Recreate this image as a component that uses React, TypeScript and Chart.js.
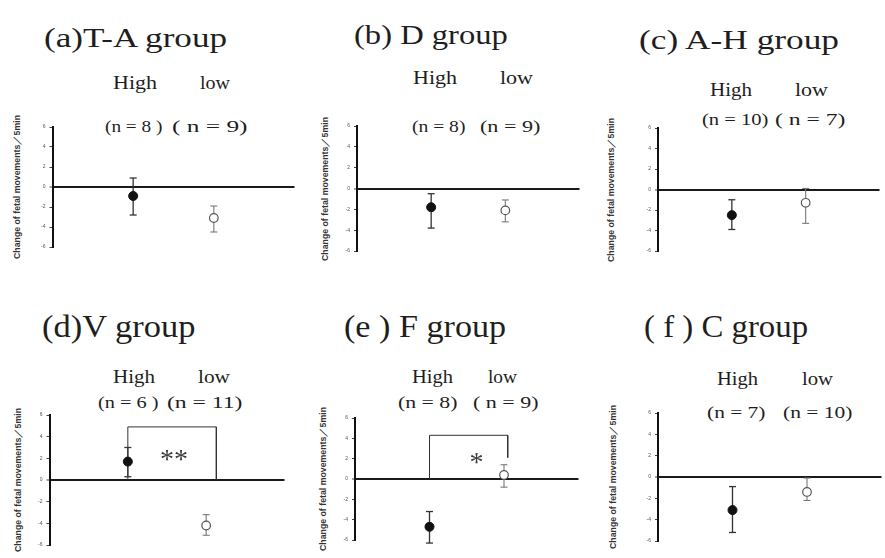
import React, { useEffect, useRef } from 'react';
import { Chart, registerables } from 'chart.js';

Chart.register(...registerables);

// ---------- data ----------
const panelTitles = ['(a)T-A group', '(b) D group', '(c) A-H group', '(d)V group', '(e ) F group', '( f ) C group'];
const groupLabels = ['High', 'low'];
const groupX = [1, 2];
const nHighLabels = ['(n = 8 )', '(n = 8)', '(n = 10)', '(n = 6 )', '(n = 8)', '(n = 7)'];
const nLowLabels = ['( n = 9)', '(n = 9)', '( n = 7)', '(n = 11)', '( n = 9)', '(n = 10)'];
const highMean = [-0.9, -1.8, -2.5, 1.7, -4.7, -3.1];
const highLower = [-2.8, -3.8, -3.9, 0.3, -6.3, -5.2];
const highUpper = [0.9, -0.5, -1.0, 3.0, -3.2, -0.9];
const lowMean = [-3.1, -2.1, -1.3, -4.2, 0.4, -1.4];
const lowLower = [-4.5, -3.2, -3.3, -5.1, -0.8, -2.2];
const lowUpper = [-1.9, -1.1, 0.1, -3.2, 1.4, -0.1];
const yTickValues = [-6, -4, -2, 0, 2, 4, 6];
const yAxisLabel = 'Change of fetal movements／5min';
const sigMarks = ['', '', '', '**', '*', ''];
const sigBracketX: (number[] | null)[] = [null, null, null, [1, 1, 2.13, 2.13], [1, 1, 2.05, 2.05], null];
const sigBracketY: (number[] | null)[] = [null, null, null, [0, 4.9, 4.9, 0], [0, 4.3, 4.3, 2.1], null];
const sigMarkX = [0, 0, 0, 1.59, 1.63, 0];
const sigMarkY = [0, 0, 0, 2.3, 2.1, 0];

// ---------- layout (pixels) ----------
const plotBoxes = [
  { labelX: 16.5, axisX: 52, yTop: 127, yBot: 247, xEnd: 297 },
  { labelX: 325, axisX: 357, yTop: 126, yBot: 251, xEnd: 583 },
  { labelX: 611, axisX: 658, yTop: 128, yBot: 251, xEnd: 883 },
  { labelX: 17.5, axisX: 49, yTop: 415, yBot: 545, xEnd: 287 },
  { labelX: 323, axisX: 355, yTop: 418, yBot: 540, xEnd: 582 },
  { labelX: 613, axisX: 658, yTop: 413, yBot: 541, xEnd: 885 },
];
const titleBoxes = [
  { x0: 45, x1: 228, cy: 37.5, size: 27 },
  { x0: 355, x1: 507, cy: 35, size: 27 },
  { x0: 640, x1: 840, cy: 40, size: 27 },
  { x0: 43, x1: 195, cy: 326, size: 32 },
  { x0: 345, x1: 505, cy: 326, size: 32 },
  { x0: 645, x1: 807, cy: 326, size: 32 },
];
const groupBoxes = [
  { h: [113, 157], l: [200, 230], cy: 83 },
  { h: [413, 457], l: [500, 533], cy: 78 },
  { h: [710, 752], l: [795, 828], cy: 90 },
  { h: [113, 155], l: [198, 230], cy: 377 },
  { h: [412, 453], l: [488, 517], cy: 377 },
  { h: [717, 758], l: [802, 833], cy: 379 },
];
const nBoxes = [
  { h: [105, 162], l: [172, 247], cy: 127 },
  { h: [412, 465], l: [480, 540], cy: 127 },
  { h: [702, 768], l: [775, 845], cy: 120 },
  { h: [98, 158], l: [167, 242], cy: 403 },
  { h: [398, 457], l: [473, 538], cy: 403 },
  { h: [707, 765], l: [783, 852], cy: 413 },
];
const Y_LABEL_LENGTH = 144;

const SERIF = '"Liberation Serif", "Times New Roman", serif';
const SANS = '"Liberation Sans", Arial, sans-serif';
const measureCtx = typeof document !== 'undefined' ? document.createElement('canvas').getContext('2d') : null;

function FitText({ text, x0, x1, cy, size }: { text: string; x0: number; x1: number; cy: number; size: number }) {
  let sx = 1;
  let left = x0;
  if (measureCtx) {
    measureCtx.font = `${size}px ${SERIF}`;
    const m = measureCtx.measureText(text);
    const abl = m.actualBoundingBoxLeft || 0;
    const abr = m.actualBoundingBoxRight || m.width;
    const ink = abl + abr;
    if (ink > 0) sx = (x1 - x0) / ink;
    left = x0 + abl * sx;
  }
  return (
    <div
      style={{
        position: 'absolute',
        left,
        top: cy,
        fontFamily: SERIF,
        fontSize: size,
        lineHeight: 1,
        whiteSpace: 'pre',
        color: '#1e1e1e',
        transform: `translateY(-50%) scaleX(${sx})`,
        transformOrigin: 'left center',
      }}
    >
      {text}
    </div>
  );
}

function AxisLabel({ cx, cy }: { cx: number; cy: number }) {
  const size = 8.5;
  let sx = 1;
  if (measureCtx) {
    measureCtx.font = `bold ${size}px ${SANS}`;
    const w = measureCtx.measureText(yAxisLabel).width;
    if (w > 0) sx = Y_LABEL_LENGTH / w;
  }
  return (
    <div
      style={{
        position: 'absolute',
        left: cx,
        top: cy,
        fontFamily: SANS,
        fontWeight: 'bold',
        fontSize: size,
        lineHeight: 1,
        whiteSpace: 'pre',
        color: '#333',
        transform: `translate(-50%, -50%) rotate(-90deg) scaleX(${sx})`,
        transformOrigin: 'center center',
      }}
    >
      {yAxisLabel}
    </div>
  );
}

function Panel({ i }: { i: number }) {
  const ref = useRef<HTMLCanvasElement>(null);
  const box = plotBoxes[i];
  const canvasLeft = box.labelX + 6;
  const axisW = box.axisX - canvasLeft;
  const top = box.yTop - 8;
  const width = Math.round(box.xEnd - canvasLeft + 2);
  const height = Math.round(box.yBot - box.yTop + 16);

  useEffect(() => {
    if (!ref.current) return;
    const datasets: any[] = [
      {
        data: [{ x: groupX[0], y: highMean[i] }],
        pointRadius: 4.5,
        pointBackgroundColor: '#111',
        pointBorderColor: '#111',
        pointBorderWidth: 1,
        showLine: false,
        clip: false,
      },
      {
        data: [{ x: groupX[1], y: lowMean[i] }],
        pointRadius: 4.3,
        pointBackgroundColor: '#fff',
        pointBorderColor: '#555',
        pointBorderWidth: 1.2,
        showLine: false,
        clip: false,
      },
      {
        data: [{ x: groupX[0], y: highLower[i] }, { x: groupX[0], y: highUpper[i] }],
        showLine: true,
        borderColor: '#333',
        borderWidth: 1.3,
        pointStyle: 'line',
        pointRadius: 3.5,
        pointBorderColor: '#333',
        pointBorderWidth: 1.3,
        clip: false,
      },
      {
        data: [{ x: groupX[1], y: lowLower[i] }, { x: groupX[1], y: lowUpper[i] }],
        showLine: true,
        borderColor: '#777',
        borderWidth: 1.1,
        pointStyle: 'line',
        pointRadius: 3.5,
        pointBorderColor: '#777',
        pointBorderWidth: 1.1,
        clip: false,
      },
    ];
    const bx = sigBracketX[i];
    const by = sigBracketY[i];
    if (bx && by) {
      datasets.push({
        data: bx.map((x, k) => ({ x, y: by[k] })),
        showLine: true,
        borderColor: '#333',
        borderWidth: 1,
        pointRadius: 0,
        clip: false,
      });
    }
    const sigPlugin = {
      id: 'sigText',
      afterDatasetsDraw(chart: any) {
        const mark = sigMarks[i];
        if (!mark) return;
        const ctx = chart.ctx;
        const size = 28;
        const px = chart.scales.x.getPixelForValue(sigMarkX[i]);
        const py = chart.scales.y.getPixelForValue(sigMarkY[i]);
        ctx.save();
        ctx.font = `${size}px ${SERIF}`;
        ctx.fillStyle = '#3a3a3a';
        ctx.textAlign = 'center';
        ctx.textBaseline = 'alphabetic';
        ctx.fillText(mark, px, py + size * 0.46);
        ctx.restore();
      },
    };
    const chart = new Chart(ref.current, {
      type: 'scatter',
      data: { datasets },
      plugins: [sigPlugin],
      options: {
        animation: false,
        responsive: false,
        devicePixelRatio: 1,
        layout: { padding: { top: 8, bottom: 8, left: 0, right: 2 } },
        plugins: { legend: { display: false }, tooltip: { enabled: false } },
        scales: {
          x: { type: 'linear', min: 0, max: 3, display: false },
          y: {
            type: 'linear',
            min: -6,
            max: 6,
            afterBuildTicks: (scale: any) => {
              scale.ticks = yTickValues.map((v) => ({ value: v }));
            },
            afterFit: (scale: any) => {
              scale.width = axisW;
            },
            ticks: {
              font: { size: 5, family: SANS },
              color: '#555',
              padding: 4,
            },
            grid: {
              color: (c: any) => (c.tick && c.tick.value === 0 ? '#1a1a1a' : 'rgba(0,0,0,0)'),
              lineWidth: (c: any) => (c.tick && c.tick.value === 0 ? 2 : 1),
              tickColor: '#444',
              tickLength: 3,
              tickWidth: 1,
            },
            border: { display: true, color: '#111', width: 2 },
            title: { display: false },
          },
        },
      } as any,
    });
    return () => chart.destroy();
  }, [i]);

  return (
    <canvas
      ref={ref}
      width={width}
      height={height}
      style={{ position: 'absolute', left: canvasLeft, top, width, height }}
    />
  );
}

export default function App() {
  return (
    <div
      style={{
        position: 'absolute',
        left: 0,
        top: 0,
        width: 885,
        height: 558,
        background: '#fff',
        overflow: 'hidden',
      }}
    >
      {panelTitles.map((t, i) => (
        <FitText key={'t' + i} text={t} {...titleBoxes[i]} />
      ))}
      {panelTitles.map((_, i) => (
        <React.Fragment key={'g' + i}>
          <FitText text={groupLabels[0]} x0={groupBoxes[i].h[0]} x1={groupBoxes[i].h[1]} cy={groupBoxes[i].cy} size={18} />
          <FitText text={groupLabels[1]} x0={groupBoxes[i].l[0]} x1={groupBoxes[i].l[1]} cy={groupBoxes[i].cy} size={18} />
          <FitText text={nHighLabels[i]} x0={nBoxes[i].h[0]} x1={nBoxes[i].h[1]} cy={nBoxes[i].cy} size={16} />
          <FitText text={nLowLabels[i]} x0={nBoxes[i].l[0]} x1={nBoxes[i].l[1]} cy={nBoxes[i].cy} size={16} />
          <AxisLabel cx={plotBoxes[i].labelX} cy={(plotBoxes[i].yTop + plotBoxes[i].yBot) / 2} />
        </React.Fragment>
      ))}
      {panelTitles.map((_, i) => (
        <Panel key={'p' + i} i={i} />
      ))}
    </div>
  );
}
